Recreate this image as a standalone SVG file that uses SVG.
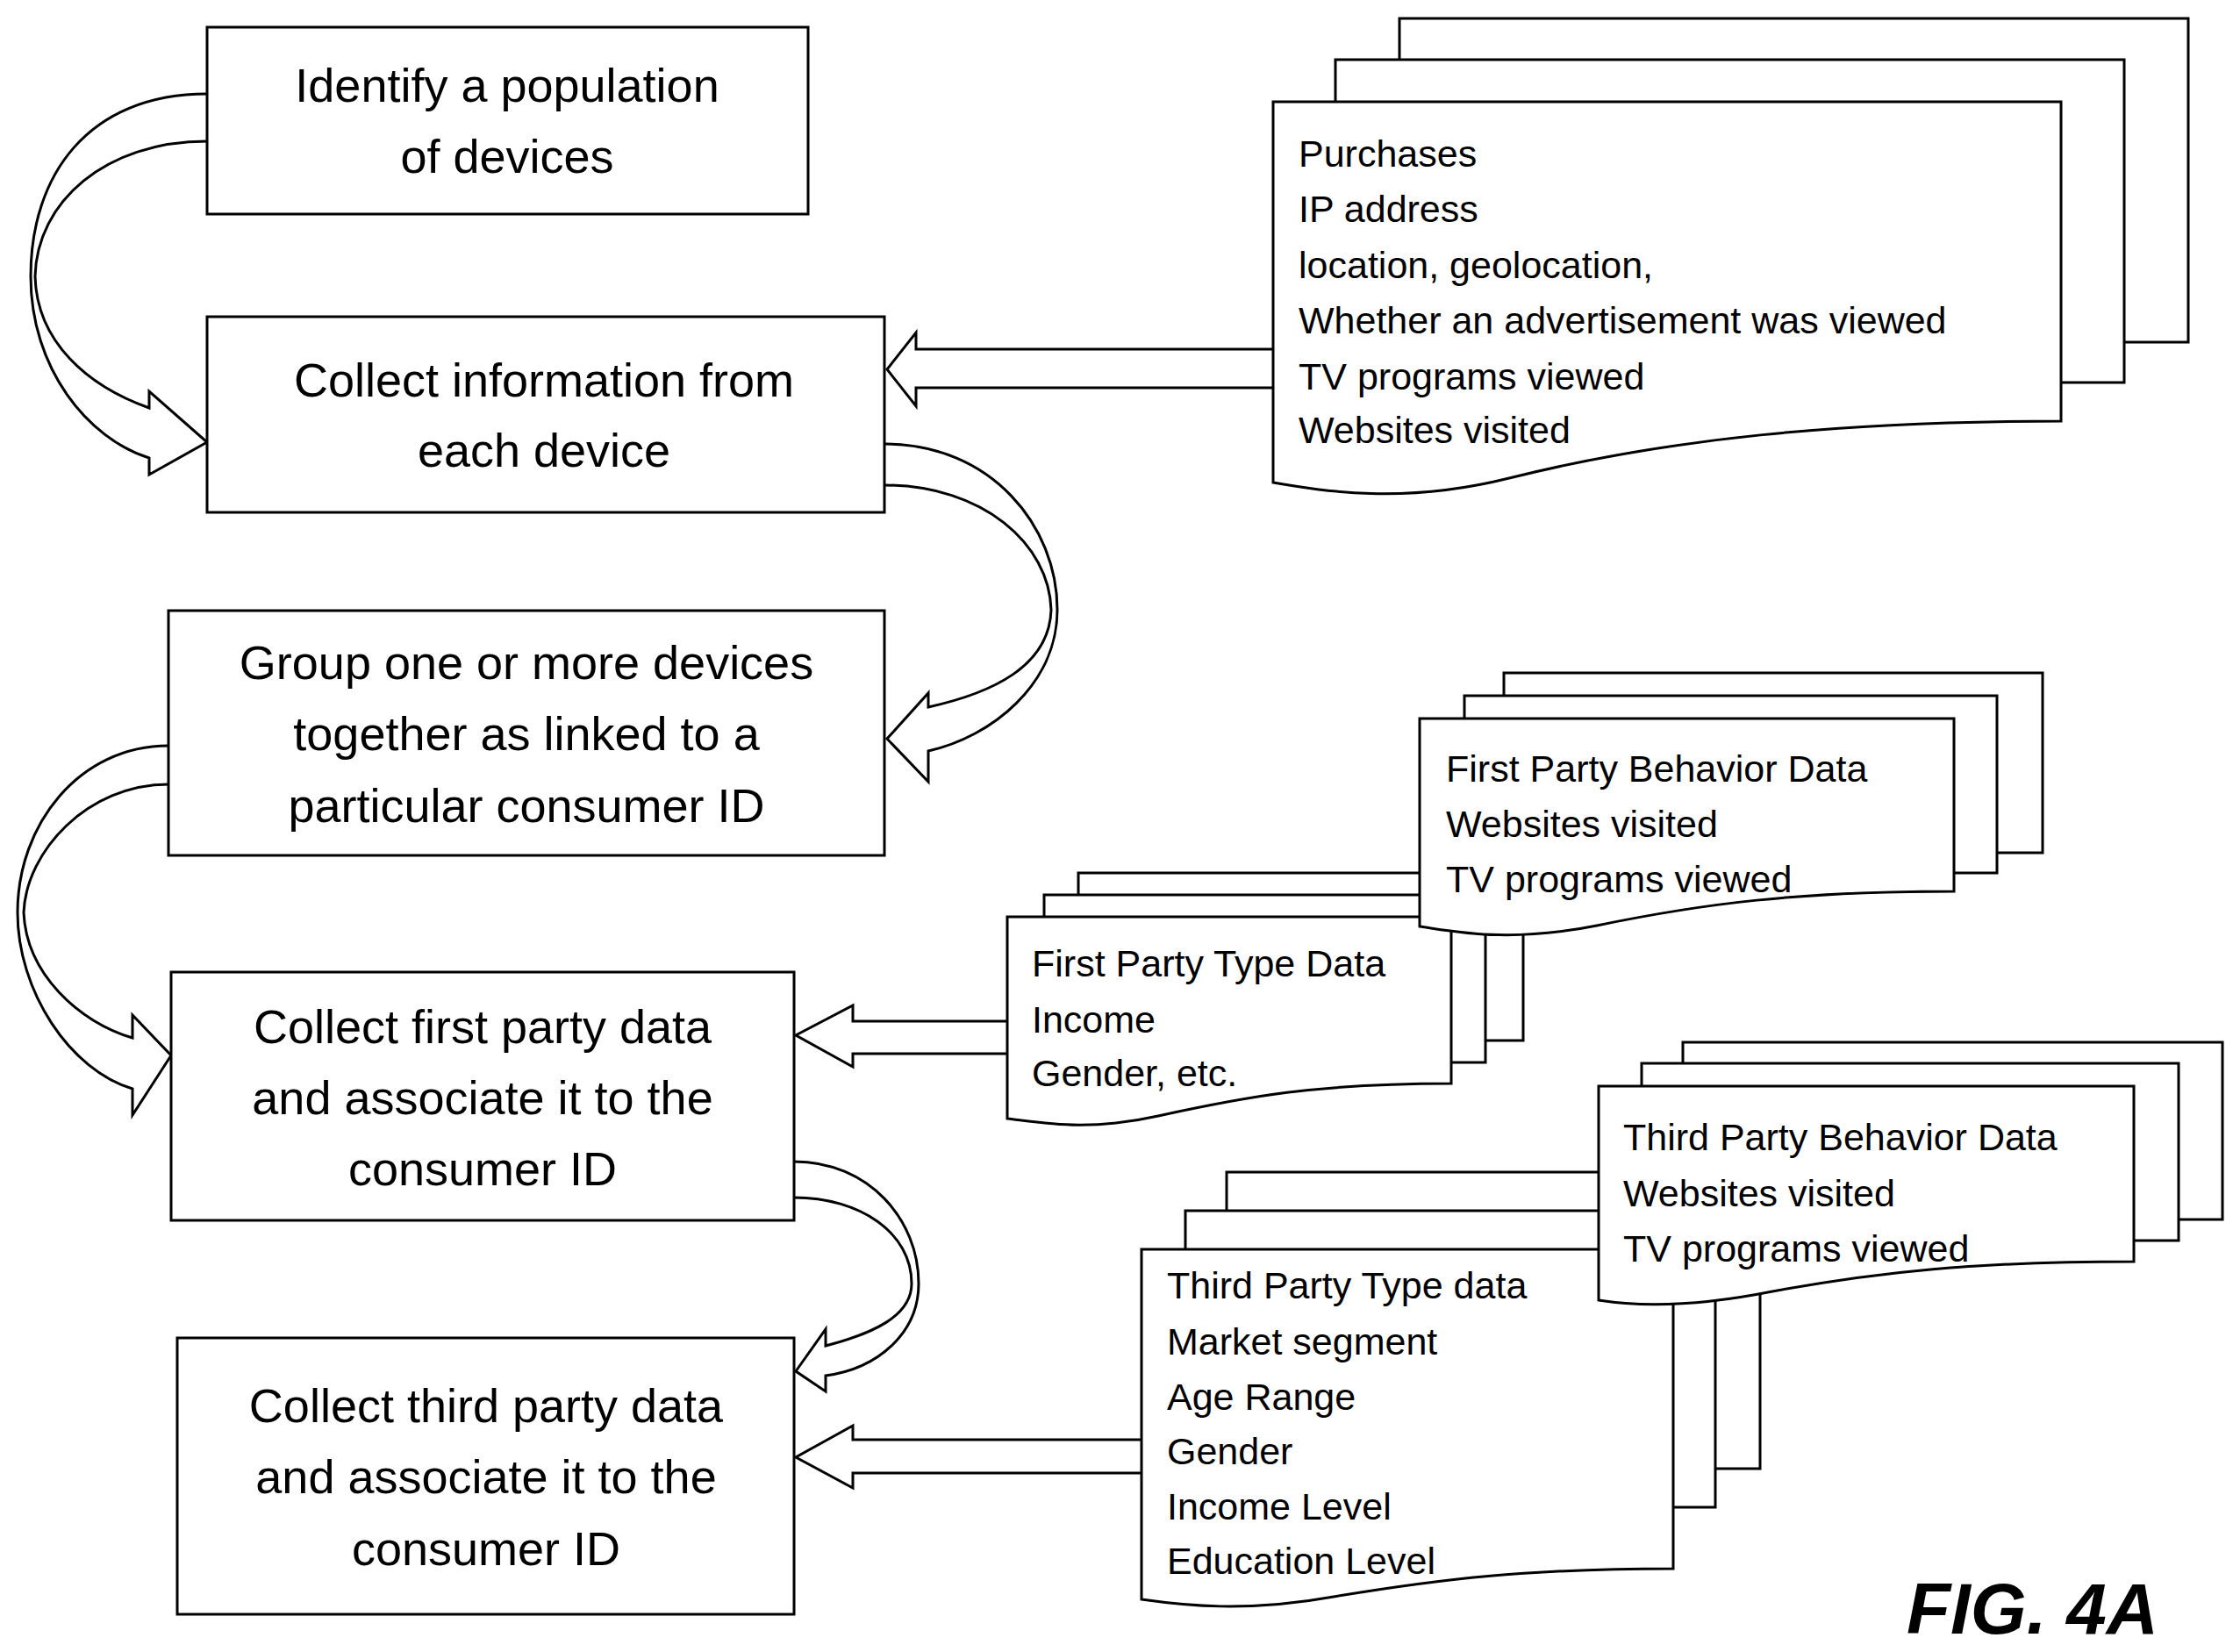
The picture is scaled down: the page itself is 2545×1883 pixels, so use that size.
<svg xmlns="http://www.w3.org/2000/svg" width="2545" height="1883" viewBox="0 0 2545 1883">
<style>
.b{fill:#fff;stroke:#000;stroke-width:3}
.t{font-family:"Liberation Sans",Arial,sans-serif;font-size:54px;fill:#000;text-anchor:middle}
.d{font-family:"Liberation Sans",Arial,sans-serif;font-size:43px;fill:#000}
.c{fill:#fff;stroke:#000;stroke-width:3;stroke-linejoin:miter}
</style>
<rect width="2545" height="1883" fill="#fff"/>
<g id="connectors">
<path class="c" d="M236,107 C100,107 35,200 35,315 C35,420 100,500 170,522 L170,541 L236,504 L170,446 L170,465 C100,440 42,390 40,315 C42,230 120,161 236,161"/>
<path class="c" d="M1008,506 C1130,506 1205,600 1205,695 C1205,780 1130,840 1058,856 L1058,891 L1011,842 L1058,790 L1058,806 C1130,790 1196,760 1198,695 C1196,620 1120,553 1008,553"/>
<path class="c" d="M192,850 C90,850 20,940 20,1040 C20,1130 80,1220 151,1241 L151,1271 L195,1203 L151,1157 L151,1183 C90,1165 30,1110 27,1040 C30,970 100,894 192,894"/>
<path class="c" d="M905,1324 C990,1324 1047,1390 1047,1463 C1047,1520 1000,1560 941,1568 L941,1586 L907,1563 L941,1515 L941,1534 C995,1520 1039,1500 1039,1463 C1039,1405 980,1365 905,1365"/>
<path class="c" d="M1451,398 L1044,398 L1044,379 L1011,421 L1044,463 L1044,442 L1451,442"/>
<path class="c" d="M1148,1164 L972,1164 L972,1146 L907,1180 L972,1216 L972,1201 L1148,1201"/>
<path class="c" d="M1301,1641 L972,1641 L972,1625 L907,1661 L972,1696 L972,1679 L1301,1679"/>
</g>
<g id="n1"><rect class="b" x="236" y="31" width="685" height="213"/>
<text class="t" x="578" y="116">Identify a population</text><text class="t" x="578" y="197">of devices</text></g>
<g id="n2"><rect class="b" x="236" y="361" width="772" height="223"/>
<text class="t" x="620" y="452">Collect information from</text><text class="t" x="620" y="532">each device</text></g>
<g id="n3"><rect class="b" x="192" y="696" width="816" height="279"/>
<text class="t" x="600" y="774">Group one or more devices</text><text class="t" x="600" y="855">together as linked to a</text><text class="t" x="600" y="937">particular consumer ID</text></g>
<g id="n4"><rect class="b" x="195" y="1108" width="710" height="283"/>
<text class="t" x="550" y="1189">Collect first party data</text><text class="t" x="550" y="1270">and associate it to the</text><text class="t" x="550" y="1351">consumer ID</text></g>
<g id="n5"><rect class="b" x="202" y="1525" width="703" height="315"/>
<text class="t" x="554" y="1621">Collect third party data</text><text class="t" x="554" y="1702">and associate it to the</text><text class="t" x="554" y="1784">consumer ID</text></g>
<g id="doc1">
<rect class="b" x="1595" y="21" width="899" height="369"/>
<rect class="b" x="1522" y="68" width="899" height="368"/>
<path class="b" d="M1451,116 H2349 V480 C2100,480 1900,500 1720,545 C1600,575 1510,560 1451,550 Z"/>
<text class="d" x="1480" y="190">Purchases</text>
<text class="d" x="1480" y="253">IP address</text>
<text class="d" x="1480" y="317">location, geolocation,</text>
<text class="d" x="1480" y="380">Whether an advertisement was viewed</text>
<text class="d" x="1480" y="444">TV programs viewed</text>
<text class="d" x="1480" y="505">Websites visited</text>
</g>
<g id="doc3">
<rect class="b" x="1229" y="995" width="507" height="191"/>
<rect class="b" x="1190" y="1020" width="503" height="191"/>
<path class="b" d="M1148,1045 H1654 V1235 C1500,1235 1420,1250 1320,1272 C1240,1290 1190,1280 1148,1275 Z"/>
<text class="d" x="1176" y="1113">First Party Type Data</text>
<text class="d" x="1176" y="1177">Income</text>
<text class="d" x="1176" y="1238">Gender, etc.</text>
</g>
<g id="doc2">
<rect class="b" x="1714" y="767" width="614" height="205"/>
<rect class="b" x="1669" y="793" width="607" height="202"/>
<path class="b" d="M1618,819 H2227 V1016 C2050,1016 1940,1030 1820,1055 C1720,1075 1660,1062 1618,1056 Z"/>
<text class="d" x="1648" y="891">First Party Behavior Data</text>
<text class="d" x="1648" y="954">Websites visited</text>
<text class="d" x="1648" y="1017">TV programs viewed</text>
</g>
<g id="doc5">
<rect class="b" x="1398" y="1336" width="608" height="338"/>
<rect class="b" x="1351" y="1380" width="604" height="338"/>
<path class="b" d="M1301,1424 H1907 V1788 C1740,1788 1640,1800 1520,1820 C1420,1838 1350,1830 1301,1823 Z"/>
<text class="d" x="1330" y="1480">Third Party Type data</text>
<text class="d" x="1330" y="1544">Market segment</text>
<text class="d" x="1330" y="1607">Age Range</text>
<text class="d" x="1330" y="1669">Gender</text>
<text class="d" x="1330" y="1732">Income Level</text>
<text class="d" x="1330" y="1794">Education Level</text>
</g>
<g id="doc4">
<rect class="b" x="1918" y="1188" width="615" height="202"/>
<rect class="b" x="1871" y="1212" width="612" height="202"/>
<path class="b" d="M1822,1238 H2432 V1438 C2250,1438 2140,1450 2020,1472 C1920,1492 1860,1488 1822,1482 Z"/>
<text class="d" x="1850" y="1311">Third Party Behavior Data</text>
<text class="d" x="1850" y="1375">Websites visited</text>
<text class="d" x="1850" y="1438">TV programs viewed</text>
</g>
<text x="2173" y="1862" font-family="Liberation Sans,Arial,sans-serif" font-size="82" font-weight="bold" font-style="italic">FIG. 4A</text>
</svg>
